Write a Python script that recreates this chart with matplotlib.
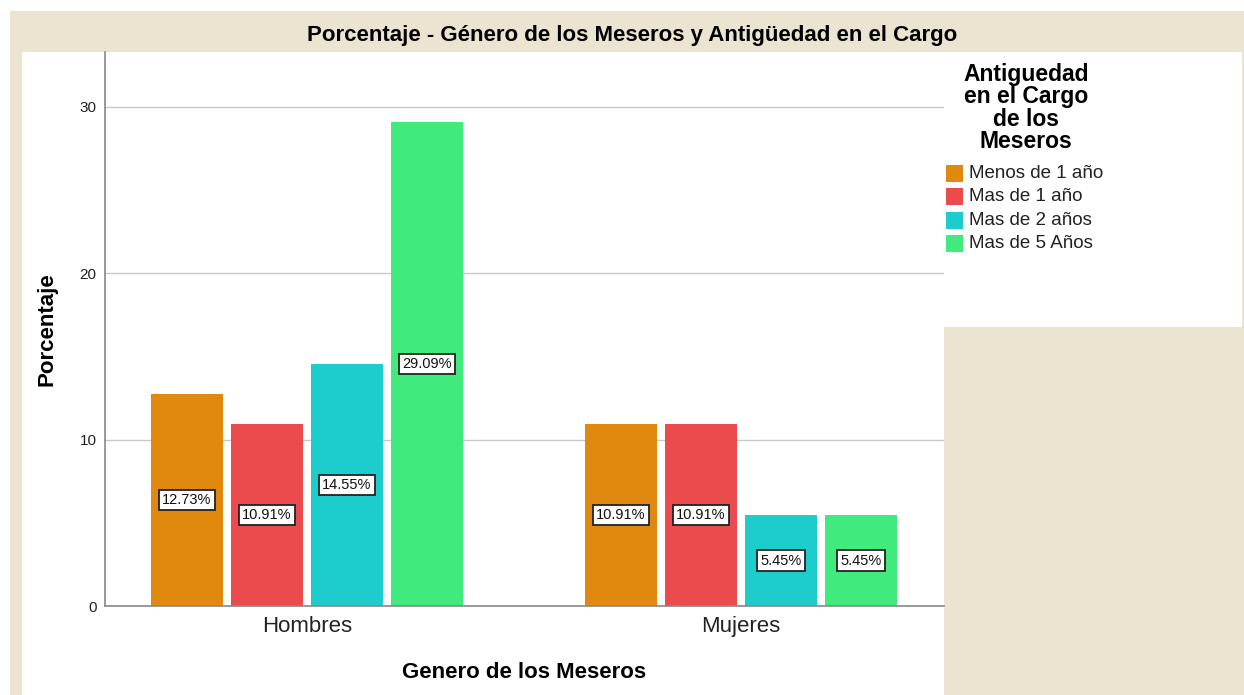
import matplotlib
matplotlib.use("Agg")
import matplotlib.pyplot as plt
from matplotlib.patches import Rectangle
import numpy as np

plt.rcParams['font.family'] = ['Liberation Sans', 'DejaVu Sans']

categories = ["Hombres", "Mujeres"]
series_names = ["Menos de 1 año", "Mas de 1 año", "Mas de 2 años", "Mas de 5 Años"]
values = {
    "Menos de 1 año": [12.73, 10.91],
    "Mas de 1 año": [10.91, 10.91],
    "Mas de 2 años": [14.55, 5.45],
    "Mas de 5 Años": [29.09, 5.45],
}
colors = ["#E1890F", "#EC4B4D", "#1DCDCD", "#40EA7C"]
yticks = [0, 10, 20, 30]

W, H = 1244, 695
fig = plt.figure(figsize=(W / 100, H / 100), dpi=100, facecolor="white")

def fx(px):
    return px / W

def fy(py):
    return 1 - py / H

beige = "#EBE4D1"
for (x0, y0, x1, y1, c) in [(10, 11, 1244, 695, beige),
                            (22, 52, 944, 695, "white"),
                            (944, 52, 1242, 327, "white")]:
    fig.add_artist(Rectangle((fx(x0), fy(y1)), (x1 - x0) / W, (y1 - y0) / H,
                             transform=fig.transFigure, facecolor=c,
                             edgecolor="none", zorder=-10))

ax = fig.add_axes([fx(105), fy(606), fx(944 - 105), (606 - 52) / H])
ax.patch.set_alpha(0)

x = np.arange(len(categories))
step = 0.1843
width = 0.166
for i, name in enumerate(series_names):
    offs = (i - 1.5) * step
    vals = values[name]
    ax.bar(x + offs, vals, width=width, color=colors[i], zorder=2, label=name)
    for xi, v in zip(x, vals):
        ax.text(xi + offs, v / 2, f"{v:.2f}%", ha="center", va="center", fontsize=10.5,
                zorder=4, color="#111111",
                bbox=dict(boxstyle="square,pad=0.22", facecolor="white",
                          edgecolor="#222222", linewidth=1.3))

ax.set_xlim(-0.465, 1.468)
ax.set_ylim(0, 33.3)
ax.set_yticks(yticks)
ax.set_yticklabels([str(t) for t in yticks], fontsize=11, color="#222222")
ax.set_xticks(x)
ax.set_xticklabels(categories, fontsize=16, color="#222222")
ax.tick_params(axis="both", length=0)
ax.tick_params(axis="y", pad=6)
ax.tick_params(axis="x", pad=7)
ax.grid(axis="y", color="#C8C8C8", linewidth=1, zorder=1)
ax.set_axisbelow(True)
for s in ["top", "right"]:
    ax.spines[s].set_visible(False)
for s in ["left", "bottom"]:
    ax.spines[s].set_color("#888888")
    ax.spines[s].set_linewidth(1.2)

fig.text(fx(47), fy(329), "Porcentaje", rotation=90, ha="center", va="center",
         fontsize=16, fontweight="bold")
fig.text(fx(524), fy(672), "Genero de los Meseros", ha="center", va="center",
         fontsize=16, fontweight="bold")
fig.text(fx(632), fy(35), "Porcentaje - Género de los Meseros y Antigüedad en el Cargo",
         ha="center", va="center", fontsize=16, fontweight="bold")

# legend (drawn manually for precise placement)
fig.text(fx(1026), fy(108), "Antiguedad\nen el Cargo\nde los\nMeseros",
         ha="center", va="center", multialignment="center", linespacing=0.98,
         fontsize=16.5, fontweight="bold")
for i, (name, c) in enumerate(zip(series_names, colors)):
    yc = 173.5 + 23.3 * i
    fig.add_artist(Rectangle((fx(946), fy(yc + 8.5)), 17 / W, 17 / H,
                             transform=fig.transFigure, facecolor=c, edgecolor="none"))
    fig.text(fx(969), fy(yc), name, ha="left", va="center", fontsize=13.5, color="#222222")

fig.savefig("out.png", dpi=100, facecolor="white")
